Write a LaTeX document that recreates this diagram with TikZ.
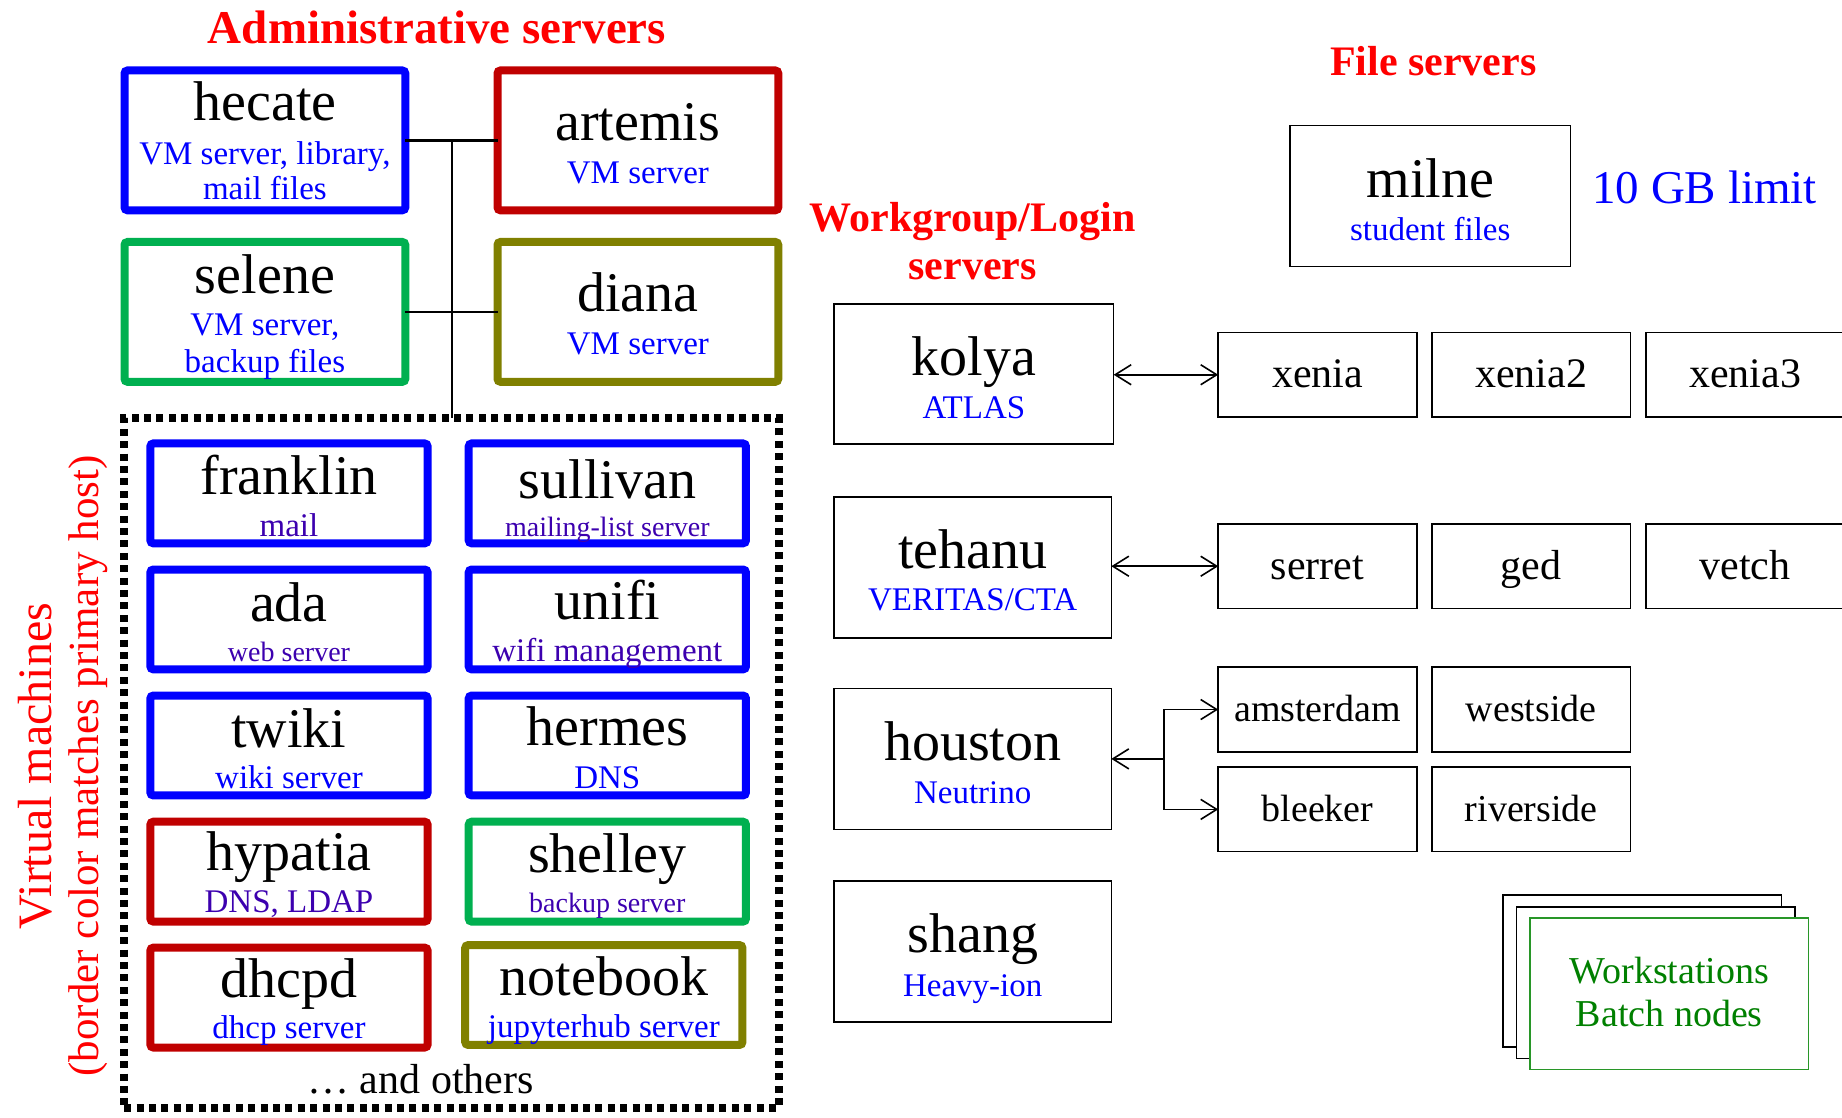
\documentclass[tikz,border=0pt]{standalone}
\usepackage{fontspec}
\setmainfont{Liberation Serif}
\usetikzlibrary{arrows.meta}
\definecolor{hostblue}{RGB}{0,0,255}
\definecolor{hostred}{RGB}{192,0,0}
\definecolor{hostgreen}{RGB}{0,176,80}
\definecolor{hostolive}{RGB}{128,128,0}
\definecolor{rolepurple}{RGB}{60,0,175}
\definecolor{headred}{RGB}{255,0,0}
\definecolor{wsgreen}{RGB}{0,128,0}
\definecolor{wsborder}{RGB}{40,150,40}
\newcommand\pxu{0.58737pt}
\newcommand\fs[1]{\fontsize{#1}{#1}\selectfont}

\begin{document}
\begin{tikzpicture}[x=0.58737pt, y=-0.58737pt,
  hostbox/.style={draw=#1, line width=4pt, rounded corners=1.5pt,
    minimum width=239*\pxu, minimum height=119*\pxu, inner sep=0pt, outer sep=0pt},
  vmbox/.style={draw=#1, line width=4pt, rounded corners=1.5pt,
    minimum width=236*\pxu, minimum height=85*\pxu, inner sep=0pt, outer sep=0pt},
  vmarea/.style={draw, line width=4pt, dash pattern=on 3.5pt off 2.7pt,
    minimum width=557*\pxu, minimum height=587*\pxu, inner sep=0pt, outer sep=0pt},
  wgbox/.style={draw, line width=0.8pt, minimum width=236*\pxu,
    minimum height=120*\pxu, inner sep=0pt, outer sep=0pt},
  cpubox/.style={draw, line width=0.8pt, minimum width=169*\pxu,
    minimum height=72*\pxu, inner sep=0pt, outer sep=0pt,
    text depth=0pt, font=\fs{#1}},
  wsbox/.style={draw=#1, fill=white, line width=0.8pt, minimum width=237*\pxu,
    minimum height=129*\pxu, inner sep=0pt, outer sep=0pt},
  hostname/.style={anchor=base, inner sep=0pt, font=\fs{28}},
  role/.style={anchor=base, inner sep=0pt, text=#1, font=\fs{16.5}},
  role/.default=hostblue,
  smallrole/.style={anchor=base, inner sep=0pt, text=#1, font=\fs{14}},
  smallrole/.default=rolepurple,
  heading/.style={anchor=base, inner sep=0pt, text=headred, font=\bfseries\fs{#1}},
  adminlink/.style={line width=1.2pt},
  arrowline/.style={line width=0.8pt},
  >={Straight Barb[length=8pt,width=10pt]}
]
\useasboundingbox (0,0) rectangle (1568,951);

% ---------- administrative servers ----------
\node[heading=23.5] (admintitle) at (372,37) {Administrative servers};

\node[hostbox=hostblue]  (hecate)  at (225.5,119.5) {};
\node[hostbox=hostred]   (artemis) at (543,119.5) {};
\node[hostbox=hostgreen] (selene)  at (225.5,265.5) {};
\node[hostbox=hostolive] (diana)   at (543,265.5) {};

\node[hostname] (hecateN) at (225.5,103) {hecate};
\node[role] (hecateR1) at (225.5,140) {VM server, library,};
\node[role] (hecateR2) at (225.5,170) {mail files};
\node[hostname] (artemisN) at (543,120) {artemis};
\node[role] (artemisR) at (543,156) {VM server};
\node[hostname] (seleneN) at (225.5,250) {selene};
\node[role] (seleneR1) at (225.5,286) {VM server,};
\node[role] (seleneR2) at (225.5,317) {backup files};
\node[hostname] (dianaN) at (543,265) {diana};
\node[role] (dianaR) at (543,302) {VM server};

% ---------- virtual machines ----------
\node[vmarea] (vmarea) at (384.3,649.5) {};

\coordinate (bus) at (385,119.5);
\draw[adminlink] (hecate.east) -- (artemis.west);
\draw[adminlink] (selene.east) -- (diana.west);
\draw[adminlink] (bus) -- (bus |- vmarea.north);

\node[vmbox=hostblue]  (franklin) at (246,420) {};
\node[vmbox=hostblue]  (sullivan) at (517,420) {};
\node[vmbox=hostblue]  (ada)      at (246,527.3) {};
\node[vmbox=hostblue]  (unifi)    at (517,527.3) {};
\node[vmbox=hostblue]  (twiki)    at (246,634.6) {};
\node[vmbox=hostblue]  (hermes)   at (517,634.6) {};
\node[vmbox=hostred]   (hypatia)  at (246,742) {};
\node[vmbox=hostgreen] (shelley)  at (517,742) {};
\node[vmbox=hostred]   (dhcpd)    at (246,849.2) {};
\node[vmbox=hostolive] (notebook) at (514,847) {};

\node[hostname] (franklinN) at (246,421) {franklin};
\node[role=rolepurple] (franklinR) at (246,457) {mail};
\node[hostname] (sullivanN) at (517,424) {sullivan};
\node[smallrole] (sullivanR) at (517,457) {mailing-list server};
\node[hostname] (adaN) at (246,529) {ada};
\node[smallrole] (adaR) at (246,563) {web server};
\node[hostname] (unifiN) at (517,527) {unifi};
\node[role=rolepurple] (unifiR) at (517,563) {wifi management};
\node[hostname] (twikiN) at (246,636) {twiki};
\node[role] (twikiR) at (246,671) {wiki server};
\node[hostname] (hermesN) at (517,635) {hermes};
\node[role] (hermesR) at (517,671) {DNS};
\node[hostname] (hypatiaN) at (246,741) {hypatia};
\node[role=rolepurple] (hypatiaR) at (246,777) {DNS, LDAP};
\node[hostname] (shelleyN) at (517,743) {shelley};
\node[smallrole] (shelleyR) at (517,777) {backup server};
\node[hostname] (dhcpdN) at (246,849) {dhcpd};
\node[role] (dhcpdR) at (246,884) {dhcp server};
\node[hostname] (notebookN) at (514,847) {notebook};
\node[role] (notebookR) at (514,883) {jupyterhub server};

\node[anchor=base, inner sep=0pt, font=\fs{21}] (others) at (358,931) {\dots\ and others};

\node[anchor=base, inner sep=0pt, rotate=90, text=headred, font=\fs{24}]
  (vmtitle) at (44,652) {Virtual machines};
\node[anchor=base, inner sep=0pt, rotate=90, text=headred, font=\fs{21.5}]
  (vmnote) at (84,652) {(border color matches primary host)};

% ---------- file servers ----------
\node[heading=21] (filetitle) at (1220,64) {File servers};
\node[wgbox, minimum width=239*\pxu] (milne) at (1217.5,167) {};
\node[hostname] (milneN) at (1217.5,168) {milne};
\node[role] (milneR) at (1217.5,205) {student files};
\node[anchor=base, inner sep=0pt, text=hostblue, font=\fs{23.5}] (quota) at (1451,173) {10 GB limit};

% ---------- workgroup / login servers ----------
\node[heading=21] (wgtitle1) at (828,197) {Workgroup/Login};
\node[heading=21] (wgtitle2) at (828,238) {servers};

\node[wgbox, minimum width=238*\pxu, minimum height=119*\pxu] (kolya) at (829,318.5) {};
\node[wgbox] (tehanu)  at (828,483) {};
\node[wgbox] (houston) at (828,646) {};
\node[wgbox] (shang)   at (828,810) {};

\node[hostname] (kolyaN) at (829,320) {kolya};
\node[role] (kolyaR) at (829,356) {ATLAS};
\node[hostname] (tehanuN) at (828,484) {tehanu};
\node[role] (tehanuR) at (828,520) {VERITAS/CTA};
\node[hostname] (houstonN) at (828,647) {houston};
\node[role] (houstonR) at (828,684) {Neutrino};
\node[hostname] (shangN) at (828,811) {shang};
\node[role] (shangR) at (828,848) {Heavy-ion};

\node[cpubox=21, text height=13pt] (xenia)  at (1121.5,319) {xenia};
\node[cpubox=21, text height=13pt] (xenia2) at (1303.5,319) {xenia2};
\node[cpubox=21, text height=13pt] (xenia3) at (1485.5,319) {xenia3};
\node[cpubox=21, text height=13pt] (serret) at (1121.5,482) {serret};
\node[cpubox=21, text height=13pt] (ged)    at (1303.5,482) {ged};
\node[cpubox=21, text height=13pt] (vetch)  at (1485.5,482) {vetch};
\node[cpubox=19, text height=12pt] (amsterdam) at (1121.5,604) {amsterdam};
\node[cpubox=19, text height=12pt] (westside)  at (1303.5,604) {westside};
\node[cpubox=19, text height=12pt] (bleeker)   at (1121.5,689) {bleeker};
\node[cpubox=19, text height=12pt] (riverside) at (1303.5,689) {riverside};

\draw[arrowline, <->] (kolya.east |- xenia.west) -- (xenia.west);
\draw[arrowline, <->] (tehanu.east |- serret.west) -- (serret.west);
\coordinate (houstonbus) at (991,646);
\draw[arrowline, ->] (houstonbus) -- (houston.east);
\draw[arrowline, ->] (houstonbus) |- (amsterdam.west);
\draw[arrowline, ->] (houstonbus) |- (bleeker.west);

% ---------- workstations ----------
\node[wsbox=black] (ws3) at (1398,826.5) {};
\node[wsbox=black] (ws2) at (1409.5,836.5) {};
\node[wsbox=wsborder] (ws1) at (1421,846) {};
\node[anchor=base, inner sep=0pt, text=wsgreen, font=\fs{19}] (wsline1) at (1421,837) {Workstations};
\node[anchor=base, inner sep=0pt, text=wsgreen, font=\fs{19}] (wsline2) at (1421,874) {Batch nodes};
\end{tikzpicture}
\end{document}
